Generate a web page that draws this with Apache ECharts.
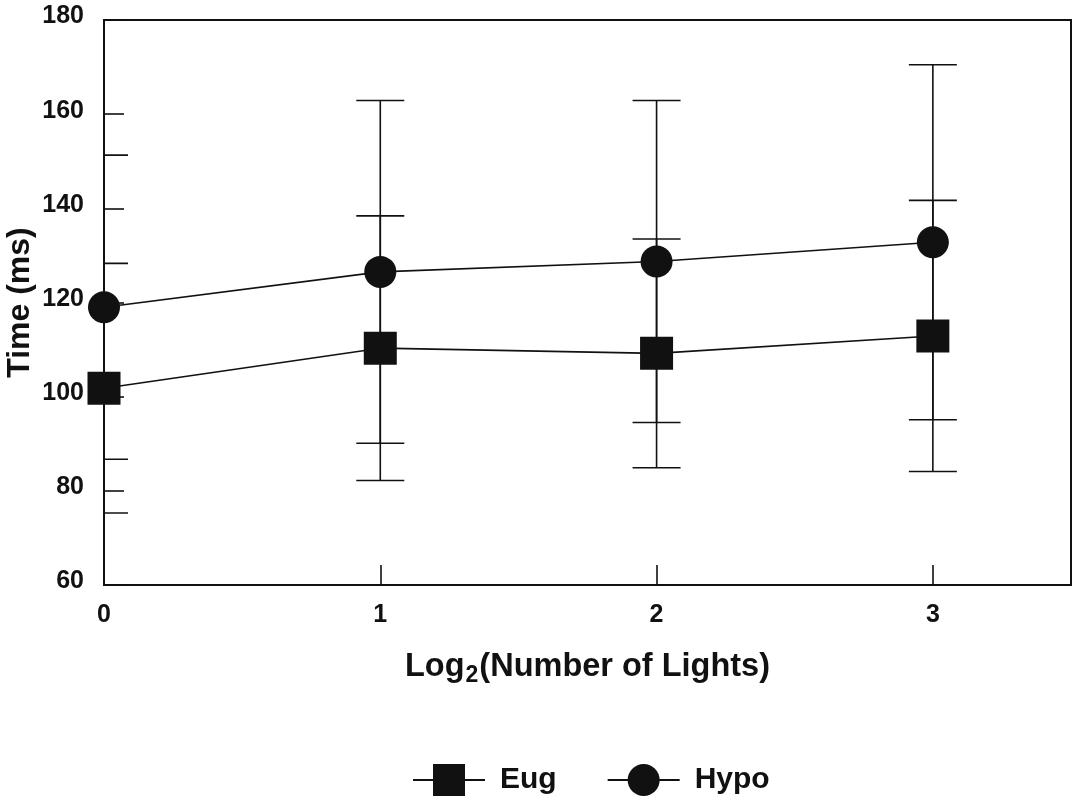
<!DOCTYPE html>
<html>
<head>
<meta charset="utf-8">
<script src="https://cdn.jsdelivr.net/npm/echarts@6/dist/echarts.min.js"></script>
<style>
  html, body { margin: 0; padding: 0; background: #fff; }
  #chart { width: 1075px; height: 796px; }
</style>
</head>
<body>
<div id="chart"></div>
<script>
// log2 of the number of lights
const xValues = [0, 1, 2, 3];

// Mean response time (ms) and error half-width per group
const eugMean = [101.8, 110.3, 109.2, 112.9];
const eugErr  = [26.5, 28.1, 24.3, 28.8];
const hypoMean = [119.0, 126.5, 128.7, 132.8];
const hypoErr  = [32.3, 36.4, 34.2, 37.7];

const yTicks = [60, 80, 100, 120, 140, 160, 180];

const INK = '#111';
const FONT = '"Liberation Sans", Arial, Helvetica, sans-serif';

function pairs(means) {
  return xValues.map((x, i) => [x, means[i]]);
}
function errRows(means, errs) {
  return xValues.map((x, i) => [x, means[i] - errs[i], means[i] + errs[i]]);
}

// Vertical error bar with a cap at each end
function renderErrorBar(params, api) {
  const x = api.value(0);
  const lo = api.coord([x, api.value(1)]);
  const hi = api.coord([x, api.value(2)]);
  const half = 24;
  const style = { stroke: INK, lineWidth: 1.6 };
  return {
    type: 'group',
    children: [
      { type: 'line', shape: { x1: lo[0], y1: lo[1], x2: hi[0], y2: hi[1] }, style },
      { type: 'line', shape: { x1: hi[0] - half, y1: hi[1], x2: hi[0] + half, y2: hi[1] }, style },
      { type: 'line', shape: { x1: lo[0] - half, y1: lo[1], x2: lo[0] + half, y2: lo[1] }, style }
    ]
  };
}

const chart = echarts.init(document.getElementById('chart'), null, { renderer: 'canvas' });

chart.setOption({
  animation: false,
  backgroundColor: '#fff',
  grid: {
    left: 104, right: 4, top: 20, bottom: 211,
    outerBoundsMode: 'none',
    containLabel: false,
    show: true, borderColor: INK, borderWidth: 2
  },
  legend: {
    data: ['Eug', 'Hypo'],
    left: 407,
    top: 759,
    itemWidth: 72,
    itemHeight: 40,
    itemGap: 50,
    textStyle: { fontFamily: FONT, fontWeight: 'bold', fontSize: 30, color: INK, padding: [0, 0, 0, 10] }
  },
  xAxis: {
    type: 'value',
    min: 0, max: 3.5, interval: 1,
    name: '{a|Log}{s|2}{a|(Number of Lights)}',
    nameLocation: 'middle',
    nameGap: 63,
    nameMoveOverlap: false,
    nameTextStyle: {
      rich: {
        a: { fontFamily: FONT, fontWeight: 'bold', fontSize: 32.5, color: INK },
        s: { fontFamily: FONT, fontWeight: 'bold', fontSize: 23, color: INK, padding: [16, 1, 0, 1] }
      }
    },
    axisLine: { lineStyle: { color: INK, width: 2 } },
    axisTick: { inside: true, length: 20, lineStyle: { color: INK, width: 1.6 } },
    axisLabel: { fontFamily: FONT, fontWeight: 'bold', fontSize: 25, color: INK, margin: 18, showMaxLabel: false },
    splitLine: { show: false }
  },
  yAxis: {
    type: 'value',
    min: yTicks[0], max: yTicks[yTicks.length - 1], interval: yTicks[1] - yTicks[0],
    name: 'Time (ms)',
    nameLocation: 'middle',
    nameGap: 68,
    nameMoveOverlap: false,
    nameTextStyle: { fontFamily: FONT, fontWeight: 'bold', fontSize: 32, color: INK },
    axisLine: { lineStyle: { color: INK, width: 2 } },
    axisTick: { inside: true, length: 20, lineStyle: { color: INK, width: 1.6 } },
    axisLabel: {
      fontFamily: FONT, fontWeight: 'bold', fontSize: 25, color: INK, margin: 20,
      verticalAlign: 'bottom', lineHeight: 7
    },
    splitLine: { show: false }
  },
  series: [
    {
      name: 'Eug err', type: 'custom', z: 1, clip: true,
      renderItem: renderErrorBar,
      encode: { x: 0, y: [1, 2] },
      data: errRows(eugMean, eugErr)
    },
    {
      name: 'Hypo err', type: 'custom', z: 1, clip: true,
      renderItem: renderErrorBar,
      encode: { x: 0, y: [1, 2] },
      data: errRows(hypoMean, hypoErr)
    },
    {
      name: 'Eug', type: 'line', z: 3, clip: false,
      symbol: 'rect', symbolSize: 33,
      itemStyle: { color: INK },
      lineStyle: { color: INK, width: 1.6 },
      data: pairs(eugMean)
    },
    {
      name: 'Hypo', type: 'line', z: 3, clip: false,
      symbol: 'circle', symbolSize: 32,
      itemStyle: { color: INK },
      lineStyle: { color: INK, width: 1.6 },
      data: pairs(hypoMean)
    }
  ]
});
</script>
</body>
</html>
